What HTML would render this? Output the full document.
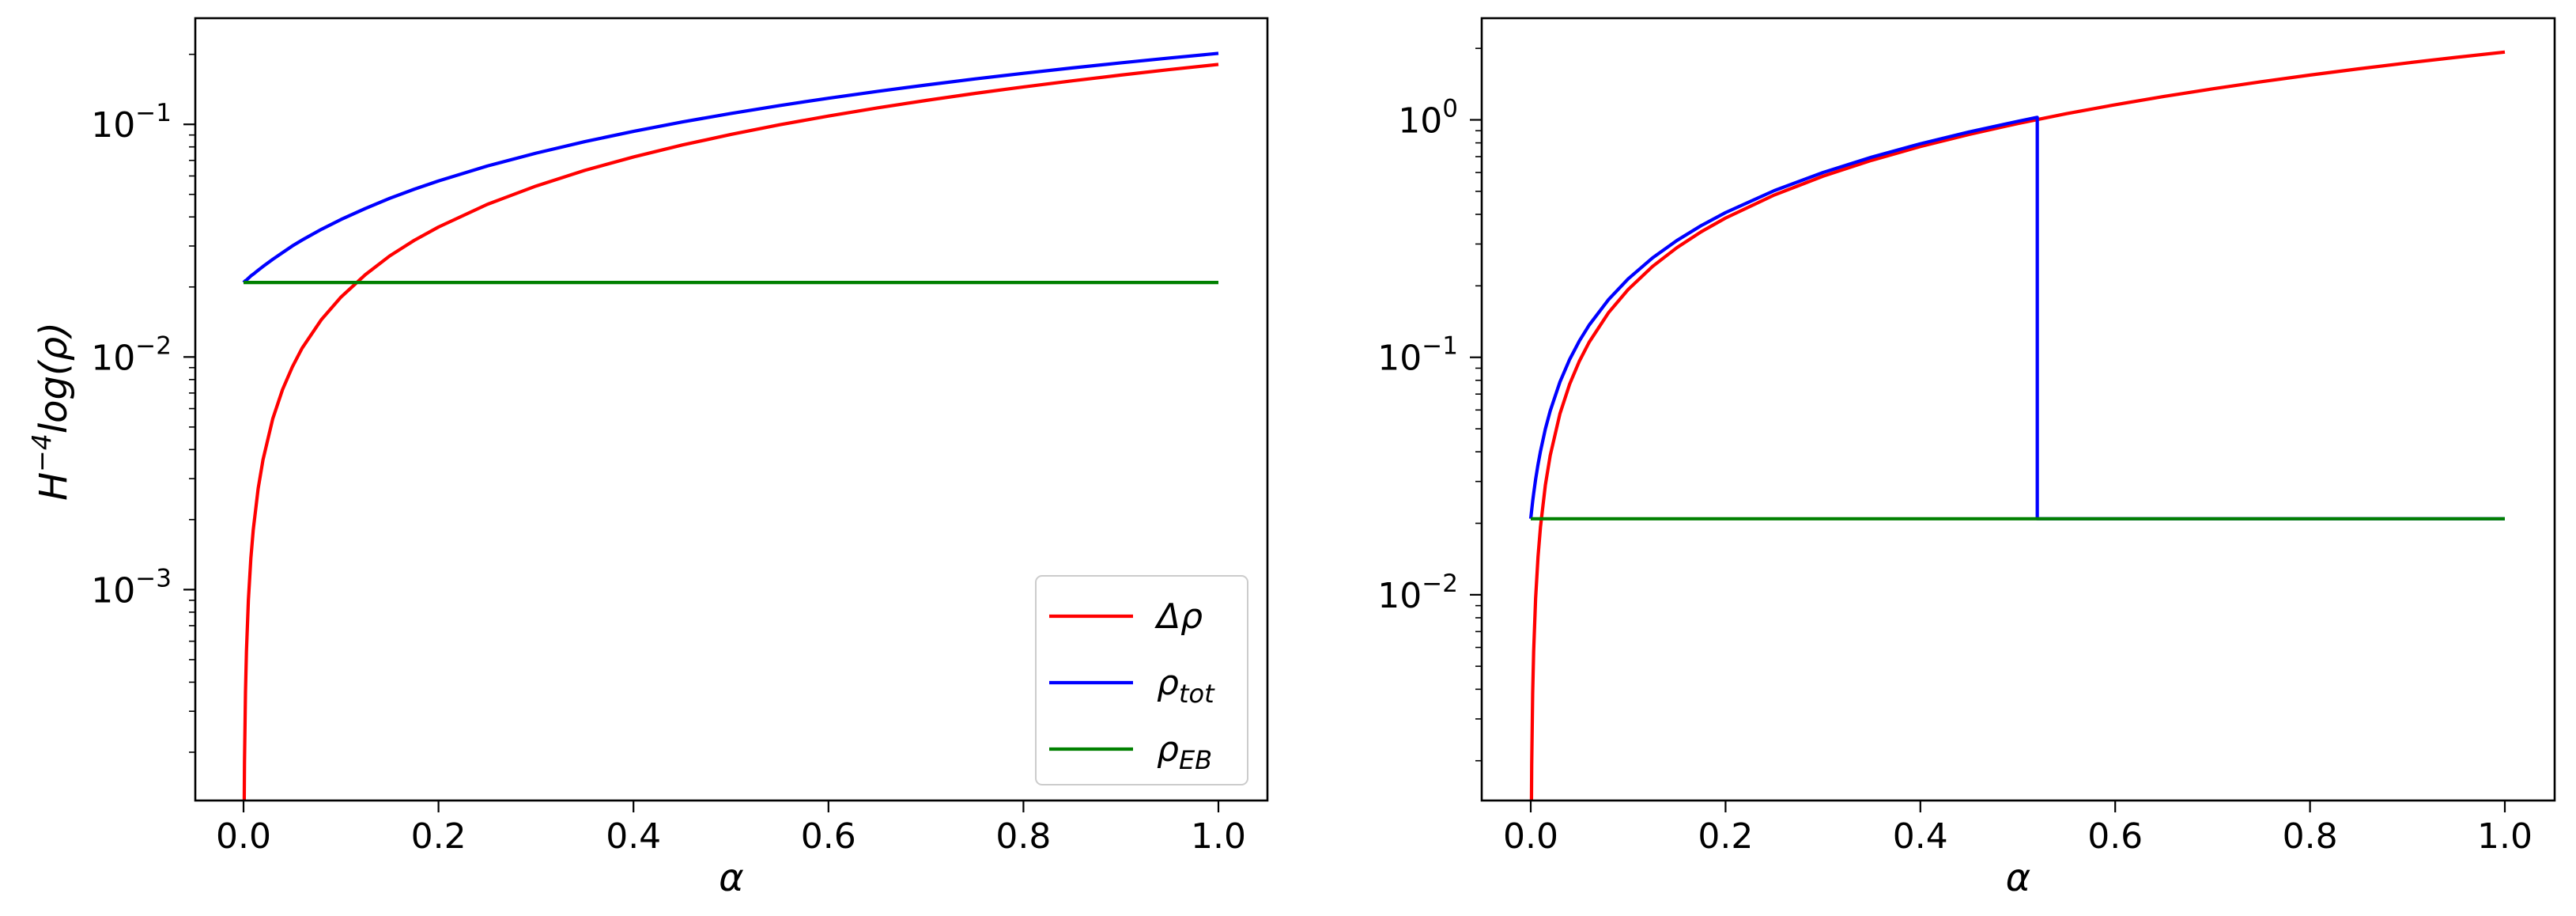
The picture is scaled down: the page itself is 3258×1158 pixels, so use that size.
<!DOCTYPE html>
<html><head><meta charset="utf-8"><style>
html,body{margin:0;padding:0;background:#fff;width:3258px;height:1158px;overflow:hidden;}
svg{display:block;font-family:"DejaVu Sans","Liberation Sans",sans-serif;}
</style></head><body>
<svg id="fig" width="3258" height="1158" viewBox="0 0 3258 1158" xmlns="http://www.w3.org/2000/svg"></svg>
<script>
// ---- data ----
const alphaL = [0,0.0005,0.001,0.002,0.003,0.005,0.0075,0.01,0.015,0.02,0.03,0.04,0.05,0.06,0.08,0.1,0.125,0.15,0.175,0.2,0.25,0.3,0.35,0.4,0.45,0.5,0.55,0.6,0.65,0.7,0.75,0.8,0.85,0.9,0.95,1.0];
const deltaRhoL = [1e-6,9.05e-5,1.81e-4,3.62e-4,5.43e-4,9.05e-4,1.36e-3,1.81e-3,2.72e-3,3.62e-3,5.43e-3,7.24e-3,9.05e-3,0.0109,0.0145,0.0181,0.0226,0.0272,0.0317,0.0362,0.0453,0.0543,0.0634,0.0724,0.0815,0.0905,0.0996,0.1086,0.1177,0.1267,0.1358,0.1448,0.1539,0.1629,0.1720,0.1810];
const rhoTotL = [0.0209,0.0210,0.0211,0.0213,0.0214,0.0218,0.0223,0.0227,0.0236,0.0245,0.0263,0.0281,0.0300,0.0318,0.0354,0.0390,0.0435,0.0481,0.0526,0.0571,0.0662,0.0752,0.0843,0.0933,0.1024,0.1114,0.1205,0.1295,0.1386,0.1476,0.1567,0.1657,0.1748,0.1838,0.1929,0.2019];
const alphaEB = [0,1.0];
const rhoEBL = [0.0209,0.0209];
const deltaRhoR = [1e-6,9.65e-4,1.93e-3,3.86e-3,5.79e-3,9.65e-3,0.01448,0.0193,0.02895,0.0386,0.0579,0.0772,0.0965,0.1158,0.1544,0.193,0.2413,0.2895,0.3378,0.386,0.4825,0.579,0.6755,0.772,0.8685,0.965,1.0615,1.158,1.2545,1.351,1.4475,1.544,1.6405,1.737,1.8335,1.93];
const alphaTotR = [0,0.002,0.003,0.005,0.0075,0.01,0.015,0.02,0.03,0.04,0.05,0.06,0.08,0.1,0.125,0.15,0.175,0.2,0.25,0.3,0.35,0.4,0.45,0.5,0.52,0.52,1.0];
const rhoTotR = [0.0209,0.0248,0.0267,0.0306,0.0354,0.0402,0.0499,0.0595,0.0788,0.0981,0.1174,0.1367,0.1753,0.2139,0.2622,0.3104,0.3587,0.4069,0.5034,0.5999,0.6964,0.7929,0.8894,0.9859,1.0245,0.0209,0.0209];
const rhoEBR = [0.0209,0.0209];
const xTicks = [0,0.2,0.4,0.6,0.8,1.0];
const xTickLabels = ["0.0","0.2","0.4","0.6","0.8","1.0"];
const yDecadesL = [-3,-2,-1];
const yDecadesR = [-2,-1,0];

const NS="http://www.w3.org/2000/svg";
const svg=document.getElementById('fig');
function mk(tag,attrs,parent){const e=document.createElementNS(NS,tag);for(const k in attrs)e.setAttribute(k,attrs[k]);(parent||svg).appendChild(e);return e;}

function panel(cfg){
  const g=mk('g',{});
  
  
  const {L,R,T,B,x0px,x1px,dTop,dBot}=cfg;
  const xs=v=>x0px+(x1px-x0px)*v;
  const lmin=Math.log10(dBot),lmax=Math.log10(dTop);
  const ys=v=>B-(Math.log10(v)-lmin)/(lmax-lmin)*(B-T);
  const cid='clip-'+cfg.name;
  const cp=mk('clipPath',{id:cid},g);mk('rect',{x:L,y:T,width:R-L,height:B-T},cp);
  cfg.series.forEach(s=>{
    const pts=s.x.map((a,i)=>xs(a).toFixed(2)+','+ys(Math.max(s.y[i],1e-12)).toFixed(2)).join(' ');
    const pl=mk('polyline',{points:pts,fill:'none',stroke:s.color,'stroke-width':4.2,'clip-path':'url(#'+cid+')','stroke-linejoin':'round'},g);
    
    
  });
  const fr=mk('rect',{x:L,y:T,width:R-L,height:B-T,fill:'none',stroke:'#000','stroke-width':2.6},g);
  
  
  xTicks.forEach((t,i)=>{
    mk('line',{x1:xs(t),x2:xs(t),y1:B,y2:B+15,stroke:'#000','stroke-width':2.2},g);
    const tx=mk('text',{x:xs(t),y:B+60,'font-size':44,'text-anchor':'middle',fill:'#000'},g);
    tx.textContent=xTickLabels[i];
    
    
  });
  for(let d=Math.floor(lmin);d<=Math.ceil(lmax);d++){
    for(let m=1;m<10;m++){
      const v=m*Math.pow(10,d);
      if(v<dBot||v>dTop)continue;
      const y=ys(v);
      mk('line',{x1:L,x2:L-(m===1?15:8),y1:y,y2:y,stroke:'#000','stroke-width':m===1?2.2:1.6},g);
    }
  }
  cfg.decades.forEach(d=>{
    const y=ys(Math.pow(10,d));
    const tx=mk('text',{x:L-30,y:y+16,'font-size':44,'text-anchor':'end',fill:'#000'},g);
    const a=mk('tspan',{},tx);a.textContent='10';
    const b=mk('tspan',{dy:-20,'font-size':31},tx);b.textContent=(d<0?'\u2212':'')+Math.abs(d);
    
    
  });
  const xl=mk('text',{x:(L+R)/2,y:1126,'font-size':48,'font-style':'italic','text-anchor':'middle',fill:'#000'},g);
  xl.textContent='α';
  
  
}

panel({name:'left-panel',L:247,R:1603,T:23,B:1012,x0px:308,x1px:1541,dTop:0.286,dBot:1.24e-4,decades:yDecadesL,
 series:[{name:'delta-rho-line',x:alphaL,y:deltaRhoL,color:'#ff0000'},{name:'rho-tot-line',x:alphaL,y:rhoTotL,color:'#0000ff'},{name:'rho-eb-line',x:alphaEB,y:rhoEBL,color:'#008000'}]});
panel({name:'right-panel',L:1874,R:3231,T:23,B:1012,x0px:1936,x1px:3168,dTop:2.68,dBot:1.36e-3,decades:yDecadesR,
 series:[{name:'delta-rho-line',x:alphaL,y:deltaRhoR,color:'#ff0000'},{name:'rho-tot-line',x:alphaTotR,y:rhoTotR,color:'#0000ff'},{name:'rho-eb-line',x:alphaEB,y:rhoEBR,color:'#008000'}]});

const yl=mk('text',{x:0,y:0,'font-size':48,'font-style':'italic','text-anchor':'middle',fill:'#000',transform:'translate(84,520) rotate(-90)'});
yl.innerHTML='H<tspan dy="-20" font-size="33">−4</tspan><tspan dy="20">log(ρ)</tspan>';



const lg=mk('g',{});


mk('rect',{x:1310,y:728,width:268,height:264,rx:8,fill:'#fff',stroke:'#cccccc','stroke-width':2},lg);
const legItems=[['#ff0000','Δρ',''],['#0000ff','ρ','tot'],['#008000','ρ','EB']];
legItems.forEach((it,i)=>{
  const y=779+i*84;
  mk('line',{x1:1327,x2:1433,y1:y,y2:y,stroke:it[0],'stroke-width':4.2},lg);
  const t=mk('text',{x:1463,y:y+15,'font-size':44,'font-style':'italic',fill:'#000'},lg);
  const a=mk('tspan',{},t);a.textContent=it[1];
  if(it[2]){const b=mk('tspan',{dy:10,'font-size':32},t);b.textContent=it[2];}
  
  
});
</script>
</body></html>
